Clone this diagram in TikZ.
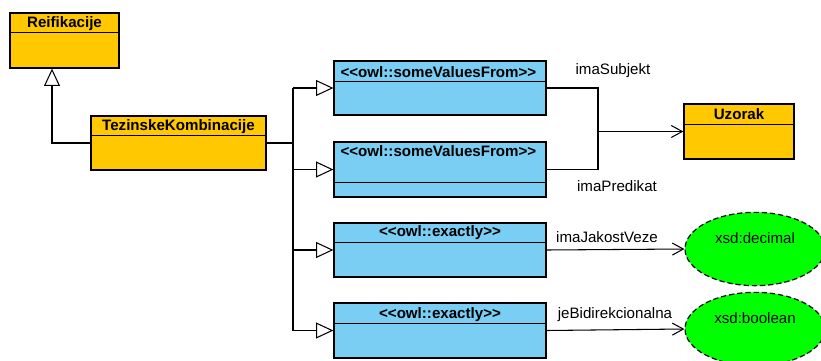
\documentclass[tikz,border=0pt]{standalone}
\usepackage{fontspec}
\setmainfont{Liberation Sans}[Ligatures=TeXOff]
\usetikzlibrary{arrows.meta,shapes.geometric,calc}

\definecolor{classorange}{RGB}{255,200,0}
\definecolor{restrblue}{RGB}{122,206,244}
\definecolor{typegreen}{RGB}{0,255,0}

\begin{document}
\begin{tikzpicture}[x=0.03cm, y=-0.03cm,
    font=\fontsize{12.9}{15}\selectfont,
    classbox/.style={draw, line width=1.1pt, rectangle, inner sep=0pt},
    headtext/.style={font=\fontsize{12.9}{15}\selectfont\bfseries, inner sep=0pt},
    plaintext/.style={inner sep=0pt},
    link/.style={line width=0.9pt},
    gen/.style={link, -{Triangle[open, fill=white, length=0.52cm, width=0.48cm]}},
    assoc/.style={link, -{Straight Barb[length=0.33cm, width=0.36cm]}},
    datatype/.style={ellipse, draw, dash pattern=on 4.5pt off 2.5pt, line width=1pt, fill=typegreen,
        minimum width=4.2cm, minimum height=2.2cm, inner sep=0pt}]
    % Fix the page to the reference size
    \useasboundingbox (0,0) rectangle (821,360);

    % Classes
    \node[classbox, fill=classorange, minimum width=3.27cm, minimum height=1.65cm] (reif) at (64.5,40.5) {};
    \draw[line width=1.1pt] ($(reif.north west)+(0,20)$) -- ($(reif.north east)+(0,20)$);
    \node[headtext] at ($(reif.north)+(0,11)$) {Reifikacije};

    \node[classbox, fill=classorange, minimum width=5.25cm, minimum height=1.62cm] (tk) at (178.5,143) {};
    \draw[line width=1.1pt] ($(tk.north west)+(0,20)$) -- ($(tk.north east)+(0,20)$);
    \node[headtext] at ($(tk.north)+(0,11)$) {TezinskeKombinacije};

    \node[classbox, fill=classorange, minimum width=3.3cm, minimum height=1.65cm] (uz) at (739,131.5) {};
    \draw[line width=1.1pt] ($(uz.north west)+(0,21)$) -- ($(uz.north east)+(0,21)$);
    \node[headtext] at ($(uz.north)+(0,11)$) {Uzorak};

    % Restrictions
    \node[classbox, fill=restrblue, minimum width=6.36cm, minimum height=1.62cm] (svf1) at (440,88) {};
    \draw[line width=1.1pt] ($(svf1.north west)+(0,21)$) -- ($(svf1.north east)+(0,21)$);
    \node[headtext, anchor=west] at ($(svf1.north west)+(7,12)$) {<<owl::someValuesFrom>>};

    \node[classbox, fill=restrblue, minimum width=6.36cm, minimum height=1.65cm] (svf2) at (440,169.5) {};
    \draw[line width=1.1pt] ($(svf2.north west)+(0,41)$) -- ($(svf2.north east)+(0,41)$);
    \node[headtext, anchor=west] at ($(svf2.north west)+(7,10)$) {<<owl::someValuesFrom>>};

    \node[classbox, fill=restrblue, minimum width=6.36cm, minimum height=1.62cm] (ex1) at (440,250) {};
    \draw[line width=1.1pt] ($(ex1.north west)+(0,20)$) -- ($(ex1.north east)+(0,20)$);
    \node[headtext] at ($(ex1.north)+(0,10)$) {<<owl::exactly>>};

    \node[classbox, fill=restrblue, minimum width=6.36cm, minimum height=1.65cm] (ex2) at (440,330.5) {};
    \draw[line width=1.1pt] ($(ex2.north west)+(0,21)$) -- ($(ex2.north east)+(0,21)$);
    \node[headtext] at ($(ex2.north)+(0,12)$) {<<owl::exactly>>};

    % Datatypes
    \node[datatype] (dec) at (755,249) {};
    \node[plaintext] at ($(dec.center)+(0,-11)$) {xsd:decimal};
    \node[datatype] (bool) at (755,329) {};
    \node[plaintext] at ($(bool.center)+(0,-11)$) {xsd:boolean};

    % Generalisation to Reifikacije
    \coordinate (genbend) at (52,143);
    \draw[gen] (tk.west) -- (genbend) -- (genbend |- reif.south);

    % Trunk to the restrictions
    \coordinate (trunk) at (293,143);
    \draw[link] (tk.east) -- (trunk);
    \draw[link] (trunk |- svf1.west) -- (trunk |- ex2.west);
    \draw[gen] (trunk |- svf1.west) -- (svf1.west);
    \draw[gen] (trunk |- svf2.west) -- (svf2.west);
    \draw[gen] (trunk |- ex1.west) -- (ex1.west);
    \draw[gen] (trunk |- ex2.west) -- (ex2.west);

    % Properties
    \coordinate (join) at (598,131.5);
    \draw[link] (svf1.east) -| (join);
    \draw[link] (svf2.east) -| (join);
    \draw[assoc] (join) -- (uz.west);
    \draw[assoc] (ex1.east) -- (dec.west);
    \draw[assoc] (ex2.east) -- (bool.west);

    \node[plaintext] at (613,71) {imaSubjekt};
    \node[plaintext] at (617,186) {imaPredikat};
    \node[plaintext] at (607,237) {imaJakostVeze};
    \node[plaintext] at (615,315) {jeBidirekcionalna};
\end{tikzpicture}
\end{document}
